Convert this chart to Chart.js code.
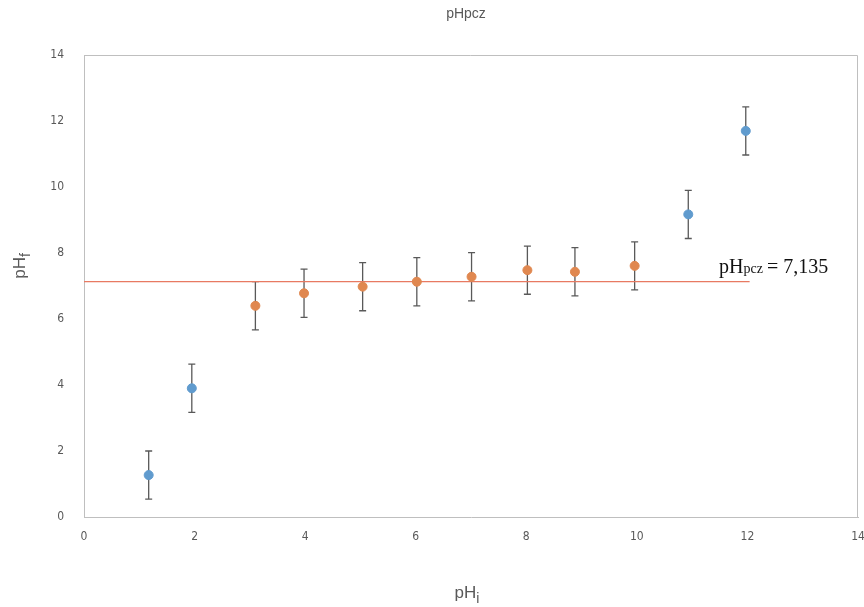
<!DOCTYPE html>
<html>
<head>
<meta charset="utf-8">
<script src="https://cdn.jsdelivr.net/npm/chart.js@4/dist/chart.umd.min.js"></script>
<style>
  html, body { margin: 0; padding: 0; background: #fff; }
  #wrap { width: 864px; height: 607px; position: relative; }
</style>
</head>
<body>
<div id="wrap"><canvas id="chart"></canvas></div>
<script>
const blueX = [1.17, 1.95, 10.93, 11.97];
const blueY = [1.27, 3.9, 9.17, 11.7];
const orangeX = [3.1, 3.98, 5.04, 6.02, 7.01, 8.02, 8.88, 9.96];
const orangeY = [6.4, 6.78, 6.98, 7.13, 7.28, 7.48, 7.43, 7.61];
const errBlue = [0.73, 0.73, 0.73, 0.73];
const errOrange = [0.73, 0.73, 0.73, 0.73, 0.73, 0.73, 0.73, 0.73];
const pzcValue = 7.135;
const pzcLineX = [0, 12.04];
const xTicks = [0, 2, 4, 6, 8, 10, 12, 14];
const yTicks = [0, 2, 4, 6, 8, 10, 12, 14];

const toPoints = (xs, ys) => xs.map((x, i) => ({ x, y: ys[i] }));

const tickFont = { family: "'Liberation Sans Narrow', 'DejaVu Sans Condensed', Arial", size: 12 };
const grey = '#595959';

// subscript text helper
function subText(ctx, parts, x, y, align) {
  let w = 0;
  parts.forEach(p => { ctx.font = p.font; w += ctx.measureText(p.t).width; });
  let cx = align === 'center' ? x - w / 2 : x;
  parts.forEach(p => {
    ctx.font = p.font;
    ctx.fillText(p.t, cx, y + (p.dy || 0));
    cx += ctx.measureText(p.t).width;
  });
}

const extras = {
  id: 'extras',
  beforeDatasetsDraw(chart) {
    const { ctx, scales: { x, y }, chartArea: a } = chart;
    ctx.save();
    // plot box top/right
    ctx.strokeStyle = '#bfbfbf';
    ctx.lineWidth = 1;
    ctx.beginPath();
    ctx.moveTo(a.left, a.top + 0.5);
    ctx.lineTo(a.right - 0.5, a.top + 0.5);
    ctx.lineTo(a.right - 0.5, a.bottom);
    ctx.stroke();
    // error bars
    ctx.strokeStyle = '#595959';
    ctx.lineWidth = 1.3;
    const bars = (xs, ys, es) => xs.forEach((v, i) => {
      const px = x.getPixelForValue(v);
      const top = y.getPixelForValue(ys[i] + es[i]);
      const bot = y.getPixelForValue(ys[i] - es[i]);
      ctx.beginPath();
      ctx.moveTo(px, top); ctx.lineTo(px, bot);
      ctx.moveTo(px - 3.5, top); ctx.lineTo(px + 3.5, top);
      ctx.moveTo(px - 3.5, bot); ctx.lineTo(px + 3.5, bot);
      ctx.stroke();
    });
    bars(blueX, blueY, errBlue);
    bars(orangeX, orangeY, errOrange);
    ctx.restore();
  },
  afterDraw(chart) {
    const { ctx } = chart;
    ctx.save();
    ctx.fillStyle = grey;
    ctx.textBaseline = 'alphabetic';
    ctx.textAlign = 'left';
    // chart title
    subText(ctx, [{ t: 'pHpcz', font: "14px 'Liberation Sans Narrow', Arial" }], 466, 18, 'center');
    // x axis title
    subText(ctx, [
      { t: 'pH', font: "17px 'Liberation Sans Narrow', Arial" },
      { t: 'i', font: "14px 'Liberation Sans Narrow', Arial", dy: 5 }
    ], 467, 598, 'center');
    // y axis title
    ctx.translate(25, 266);
    ctx.rotate(-Math.PI / 2);
    subText(ctx, [
      { t: 'pH', font: "17px 'Liberation Sans Narrow', Arial" },
      { t: 'f', font: "14px 'Liberation Sans Narrow', Arial", dy: 5 }
    ], 0, 0, 'center');
    ctx.setTransform(1, 0, 0, 1, 0, 0);
    // pHpcz annotation
    ctx.fillStyle = '#111';
    subText(ctx, [
      { t: 'pH', font: "20px 'Liberation Serif', 'Times New Roman', serif" },
      { t: 'pcz', font: "14px 'Liberation Serif', 'Times New Roman', serif" },
      { t: '\u2009= 7,135', font: "20px 'Liberation Serif', 'Times New Roman', serif" }
    ], 719, 273, 'left');
    ctx.restore();
  }
};

new Chart(document.getElementById('chart'), {
  type: 'scatter',
  data: {
    datasets: [
      {
        label: 'pHpcz',
        data: toPoints(pzcLineX, [pzcValue, pzcValue]),
        showLine: true,
        borderColor: 'rgb(232,122,98)',
        borderWidth: 1.3,
        pointRadius: 0,
        order: 3
      },
      {
        label: 'blue',
        data: toPoints(blueX, blueY),
        backgroundColor: 'rgb(96,155,206)',
        borderColor: 'rgb(96,155,206)',
        pointRadius: 4.5,
        order: 1
      },
      {
        label: 'orange',
        data: toPoints(orangeX, orangeY),
        backgroundColor: 'rgb(224,136,80)',
        borderColor: 'rgb(224,136,80)',
        pointRadius: 4.5,
        order: 2
      }
    ]
  },
  options: {
    responsive: true,
    maintainAspectRatio: false,
    animation: false,
    layout: { padding: { top: 55, right: 6, left: 0, bottom: 0 } },
    plugins: { legend: { display: false }, tooltip: { enabled: false }, title: { display: false } },
    scales: {
      x: {
        type: 'linear', min: 0, max: 14,
        afterBuildTicks: s => { s.ticks = xTicks.map(v => ({ value: v })); },
        afterFit: s => { s.height = 90; s.paddingRight = 0; s.paddingLeft = 0; },
        grid: { display: false },
        border: { color: '#bfbfbf', width: 1 },
        ticks: { color: grey, font: tickFont, padding: 5 }
      },
      y: {
        type: 'linear', min: 0, max: 14,
        afterBuildTicks: s => { s.ticks = yTicks.map(v => ({ value: v })); },
        afterFit: s => { s.width = 84; },
        grid: { display: false },
        border: { color: '#bfbfbf', width: 1 },
        ticks: { color: grey, font: tickFont, padding: 12 }
      }
    }
  },
  plugins: [extras]
});
</script>
</body>
</html>
